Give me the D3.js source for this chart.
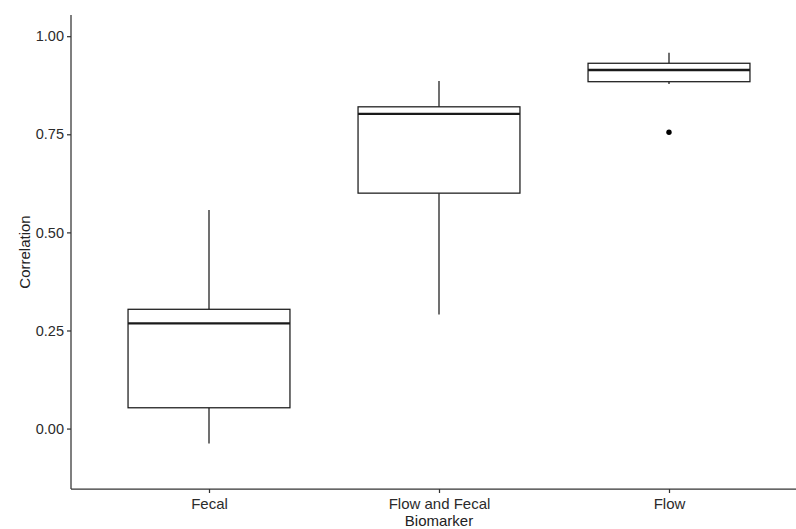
<!DOCTYPE html>
<html>
<head>
<meta charset="utf-8">
<script src="https://cdn.jsdelivr.net/npm/d3@7"></script>
<style>
  html, body { margin: 0; padding: 0; background: #fff; }
  svg { display: block; }
  text { font-family: "Liberation Sans", Arial, sans-serif; }
</style>
</head>
<body>
<svg id="chart" width="796" height="529"></svg>
<script>
// Correlation summaries per biomarker group (five-number summary + outliers)
const categories = ["Fecal", "Flow and Fecal", "Flow"];
const whiskerLow  = [-0.038, 0.291, 0.878];
const q1          = [0.053, 0.600, 0.884];
const median      = [0.268, 0.802, 0.914];
const q3          = [0.304, 0.820, 0.931];
const whiskerHigh = [0.557, 0.886, 0.958];
const outliers    = [[], [], [0.755]];
const yTicks      = [0, 0.25, 0.5, 0.75, 1.0];

const svg = d3.select("#chart");
const plotLeft = 71, plotTop = 15, plotBottom = 489, plotRight = 807;

// discrete positions 1..n, padded 0.6 units on each side
const x = d3.scaleLinear().domain([0.4, categories.length + 0.6]).range([plotLeft, plotRight]);
const y = d3.scaleLinear().domain([-0.154, 1.054]).range([plotBottom, plotTop]);
const boxHalf = 0.352;

const ink = "#1a1a1a";
const tickInk = "#2b2b2b";
const lw = 1.25;

// boxes
const g = svg.append("g");
categories.forEach((c, i) => {
  const cx = x(i + 1);
  const x0 = x(i + 1 - boxHalf), x1 = x(i + 1 + boxHalf);
  // whiskers
  g.append("line").attr("x1", cx).attr("x2", cx)
    .attr("y1", y(q3[i])).attr("y2", y(whiskerHigh[i]))
    .attr("stroke", ink).attr("stroke-width", lw);
  g.append("line").attr("x1", cx).attr("x2", cx)
    .attr("y1", y(q1[i])).attr("y2", y(whiskerLow[i]))
    .attr("stroke", ink).attr("stroke-width", lw);
  // box
  g.append("rect").attr("x", x0).attr("y", y(q3[i]))
    .attr("width", x1 - x0).attr("height", y(q1[i]) - y(q3[i]))
    .attr("fill", "#fff").attr("stroke", ink).attr("stroke-width", lw);
  // median
  g.append("line").attr("x1", x0).attr("x2", x1)
    .attr("y1", y(median[i])).attr("y2", y(median[i]))
    .attr("stroke", ink).attr("stroke-width", 2.4);
  // outliers
  outliers[i].forEach(v => {
    g.append("circle").attr("cx", cx).attr("cy", y(v)).attr("r", 2.7).attr("fill", "#000");
  });
});

// y axis
const yAxis = svg.append("g").attr("transform", `translate(${plotLeft},0)`)
  .call(d3.axisLeft(y).tickValues(yTicks).tickFormat(d3.format(".2f")).tickSize(4).tickPadding(3));
yAxis.select(".domain").attr("d", `M0,${plotTop}V${plotBottom}`).attr("stroke", "#333").attr("stroke-width", lw);
yAxis.selectAll(".tick line").attr("stroke", "#333").attr("stroke-width", lw);
yAxis.selectAll(".tick text").attr("fill", tickInk).attr("font-size", 14.5);

// x axis
const xAxis = svg.append("g").attr("transform", `translate(0,${plotBottom})`)
  .call(d3.axisBottom(x).tickValues(categories.map((c, i) => i + 1))
    .tickFormat((d) => categories[d - 1]).tickSize(4).tickPadding(5));
xAxis.select(".domain").attr("d", `M${plotLeft},0H${plotRight}`).attr("stroke", "#333").attr("stroke-width", lw);
xAxis.selectAll(".tick line").attr("stroke", "#333").attr("stroke-width", lw);
xAxis.selectAll(".tick text").attr("fill", tickInk).attr("font-size", 15);

// axis titles
svg.append("text").attr("x", x(2)).attr("y", 526).attr("text-anchor", "middle")
  .attr("font-size", 15).attr("fill", "#222").text("Biomarker");
svg.append("text").attr("transform", `translate(30,${y(0.45)}) rotate(-90)`)
  .attr("text-anchor", "middle").attr("font-size", 15).attr("fill", "#222").text("Correlation");
</script>
</body>
</html>
